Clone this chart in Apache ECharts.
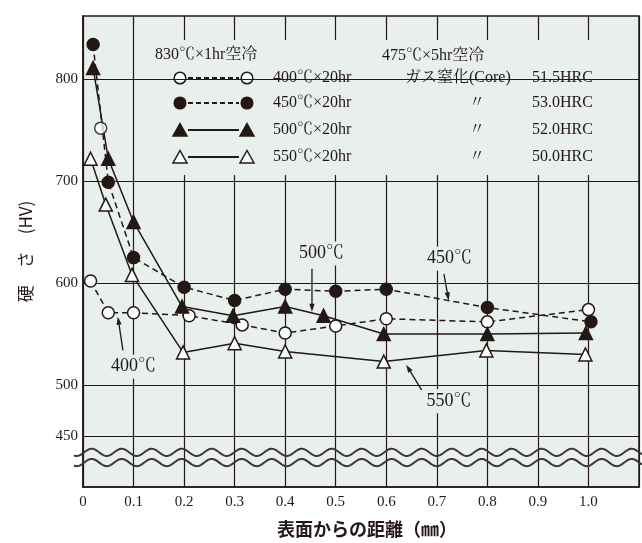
<!DOCTYPE html>
<html>
<head>
<meta charset="utf-8">
<script src="https://cdn.jsdelivr.net/npm/echarts@6/dist/echarts.min.js"></script>
<style>
  html, body { margin: 0; padding: 0; background: #fff; }
  #chart { width: 642px; height: 543px; }
</style>
</head>
<body>
<div id="chart"></div>
<script>
// Hardness profiles (HV) against depth from the surface (mm)
const distance400 = [0.015, 0.05, 0.1, 0.21, 0.315, 0.4, 0.5, 0.6, 0.8, 1.0];
const hardness400 = [602, 571, 571, 568, 559, 551, 558, 565, 562, 574];
const distance400Extra = [0.035];
const hardness400Extra = [752];
const distance450 = [0.02, 0.05, 0.1, 0.2, 0.3, 0.4, 0.5, 0.6, 0.8, 1.005];
const hardness450 = [834, 699, 625, 596, 583, 594, 592, 594, 576, 562];
const distance500 = [0.02, 0.05, 0.1, 0.196, 0.297, 0.4, 0.476, 0.595, 0.8, 0.995];
const hardness500 = [811, 722, 660, 577, 568, 577, 568, 550, 550, 551];
const distance550 = [0.015, 0.045, 0.097, 0.198, 0.3, 0.4, 0.595, 0.798, 0.994];
const hardness550 = [722, 677, 608, 532, 541, 533, 523, 534, 530];

// Legend / caption text
const headerQuench = '830℃×1hr空冷';
const headerNitride = '475℃×5hr空冷';
const temperLabels = ['400℃×20hr', '450℃×20hr', '500℃×20hr', '550℃×20hr'];
const coreLabels = ['ガス窒化(Core)', '〃', '〃', '〃'];
const coreHardness = ['51.5HRC', '53.0HRC', '52.0HRC', '50.0HRC'];
const curveLabels = ['400℃', '500℃', '450℃', '550℃'];

// Axis ticks
const yTickValues = [450, 500, 600, 700, 800];
const xTickStep = 0.1;

const ink = '#231815';
const plotBg = '#e8efec';
const openFill = '#fbfdfc';
const serif = "'Liberation Serif','Noto Serif CJK JP','Noto Sans CJK JP',serif";

function pairs(xs, ys) { return xs.map((x, i) => [x, ys[i]]); }

const curveDefs = [
  { name: temperLabels[0], data: pairs(distance400, hardness400), symbol: 'circle', open: true, dashed: true, size: 12 },
  { name: temperLabels[1], data: pairs(distance450, hardness450), symbol: 'circle', open: false, dashed: true, size: 12 },
  { name: temperLabels[2], data: pairs(distance500, hardness500), symbol: 'triangle', open: false, dashed: false, size: 13 },
  { name: temperLabels[3], data: pairs(distance550, hardness550), symbol: 'triangle', open: true, dashed: false, size: 13 }
];

const series = [
  {
    // horizontal grid lines at the labelled hardness values
    type: 'line', data: [], silent: true,
    markLine: {
      silent: true, symbol: 'none', z: 1, animation: false,
      label: { show: false },
      lineStyle: { color: ink, width: 1.2, type: 'solid' },
      data: yTickValues.map(v => ({ yAxis: v }))
    }
  }
];
curveDefs.forEach(c => {
  series.push({
    name: c.name, type: 'line', data: c.data,
    symbol: c.symbol, symbolSize: c.size, z: 3,
    lineStyle: { color: ink, width: 1.5, type: c.dashed ? [6, 4] : 'solid' },
    itemStyle: { color: c.open ? openFill : ink, borderColor: ink, borderWidth: 1.5 }
  });
});
series.push({
  name: temperLabels[0], type: 'scatter', data: pairs(distance400Extra, hardness400Extra),
  symbol: 'circle', symbolSize: 12, z: 4,
  itemStyle: { color: openFill, borderColor: ink, borderWidth: 1.5 }
});

const option = {
  animation: false,
  backgroundColor: '#fff',
  grid: {
    left: 83, right: 0, top: 16, bottom: 54,
    show: true, backgroundColor: plotBg, borderColor: ink, borderWidth: 1.5
  },
  xAxis: {
    type: 'value', min: 0, max: 1.1, interval: xTickStep,
    axisLine: { show: true, lineStyle: { color: ink, width: 1.5 } },
    axisTick: { show: false },
    splitLine: { show: true, lineStyle: { color: ink, width: 1.2 } },
    axisLabel: {
      color: ink, fontFamily: serif, fontSize: 15, margin: 8,
      formatter: v => (v === 0 ? '0' : (v > 1.05 ? '' : v.toFixed(1)))
    },
    name: '表面からの距離（㎜）', nameLocation: 'middle', nameGap: 33,
    nameTextStyle: { color: ink, fontFamily: "'Noto Sans CJK JP',sans-serif", fontSize: 18, fontWeight: 'bold', padding: [0, 0, 0, 12] }
  },
  yAxis: {
    type: 'value', min: 400, max: 862,
    axisLine: { show: true, lineStyle: { color: ink, width: 1.5 } },
    axisTick: { show: false },
    splitLine: { show: false },
    axisLabel: { color: ink, fontFamily: serif, fontSize: 15, margin: 5, customValues: yTickValues },
    name: '硬　さ　(HV)', nameLocation: 'middle', nameGap: 49, nameRotate: 90,
    nameTextStyle: { color: ink, fontFamily: "'Noto Sans CJK JP',sans-serif", fontSize: 17 }
  },
  series: series
};

const chart = echarts.init(document.getElementById('chart'), null, { renderer: 'canvas' });
chart.setOption(option);

// ---- decorations: legend box, curve callouts, axis break ----
const toPx = (x, y) => chart.convertToPixel({ gridIndex: 0 }, [x, y]);
const graphics = [];

// axis break (two wavy lines)
function wave(valueY) {
  const yc = chart.convertToPixel({ yAxisIndex: 0 }, valueY);
  const pts = [];
  for (let px = 74; px <= 642; px += 1) {
    pts.push([px, yc - 3.6 * Math.cos(2 * Math.PI * (px - 121.7) / 30)]);
  }
  return {
    type: 'polyline', z: 20, silent: true,
    shape: { points: pts, smooth: 0 },
    style: { stroke: '#3e3633', lineWidth: 2, fill: null }
  };
}
graphics.push(wave(434), wave(424));

// curve callouts with arrows
const calloutAt = [[0.100, 518], [0.472, 629], [0.725, 624], [0.724, 484]];
const arrowFrom = [[0.079, 534], [0.453, 614], [0.714, 609], [0.670, 495]];
const arrowTo = [[0.069, 567], [0.453, 572], [0.7235, 583], [0.6395, 520]];
curveLabels.forEach((t, i) => {
  const c = toPx(calloutAt[i][0], calloutAt[i][1]);
  graphics.push({
    type: 'text', z: 30, silent: true, x: c[0], y: c[1],
    style: {
      text: t, fill: ink, font: '18px ' + serif, align: 'center', verticalAlign: 'middle',
      backgroundColor: plotBg, padding: [3, 2, 3, 2]
    }
  });
  const f = toPx(arrowFrom[i][0], arrowFrom[i][1]);
  const tp = toPx(arrowTo[i][0], arrowTo[i][1]);
  const dx = tp[0] - f[0], dy = tp[1] - f[1];
  const len = Math.hypot(dx, dy);
  const ux = dx / len, uy = dy / len;
  const nx = -uy, ny = ux;
  const hl = 8, hw = 2.6;
  graphics.push({
    type: 'line', z: 30, silent: true,
    shape: { x1: f[0], y1: f[1], x2: tp[0] - ux * hl * 0.8, y2: tp[1] - uy * hl * 0.8 },
    style: { stroke: ink, lineWidth: 1.3 }
  });
  graphics.push({
    type: 'polygon', z: 30, silent: true,
    shape: { points: [
      [tp[0], tp[1]],
      [tp[0] - ux * hl + nx * hw, tp[1] - uy * hl + ny * hw],
      [tp[0] - ux * hl - nx * hw, tp[1] - uy * hl - ny * hw]
    ] },
    style: { fill: ink }
  });
});

// legend box
const legendChildren = [];
legendChildren.push({
  type: 'rect', shape: { x: 145, y: 40, width: 462, height: 135 },
  style: { fill: plotBg }
});
legendChildren.push({
  type: 'text', x: 155, y: 55,
  style: { text: headerQuench, fill: ink, font: '16px ' + serif, verticalAlign: 'middle' }
});
legendChildren.push({
  type: 'text', x: 382, y: 56,
  style: { text: headerNitride, fill: ink, font: '16px ' + serif, verticalAlign: 'middle' }
});
const rowY = [78, 103, 130, 157];
function legendMarker(def, cx, cy) {
  if (def.symbol === 'circle') {
    return {
      type: 'circle', shape: { cx: cx, cy: cy, r: 5.8 },
      style: { fill: def.open ? openFill : ink, stroke: ink, lineWidth: 1.5 }
    };
  }
  return {
    type: 'polygon',
    shape: { points: [[cx, cy - 6.5], [cx + 7, cy + 6], [cx - 7, cy + 6]] },
    style: { fill: def.open ? openFill : ink, stroke: ink, lineWidth: 1.5 }
  };
}
curveDefs.forEach((def, i) => {
  const y = rowY[i];
  legendChildren.push({
    type: 'line', shape: { x1: 188, y1: y, x2: 239, y2: y },
    style: { stroke: ink, lineWidth: 2, lineDash: def.dashed ? [5, 3] : null }
  });
  legendChildren.push(legendMarker(def, 180, y));
  legendChildren.push(legendMarker(def, 247, y));
  legendChildren.push({
    type: 'text', x: 273, y: y,
    style: { text: temperLabels[i], fill: ink, font: '16px ' + serif, verticalAlign: 'middle' }
  });
  legendChildren.push({
    type: 'text', x: i === 0 ? 405 : 477, y: y,
    style: { text: coreLabels[i], fill: ink, font: '16px ' + serif, verticalAlign: 'middle', align: i === 0 ? 'left' : 'center' }
  });
  legendChildren.push({
    type: 'text', x: 532, y: y,
    style: { text: coreHardness[i], fill: ink, font: '16px ' + serif, verticalAlign: 'middle' }
  });
});
graphics.push({ type: 'group', z: 40, silent: true, children: legendChildren });

chart.setOption({ graphic: graphics });
</script>
</body>
</html>
